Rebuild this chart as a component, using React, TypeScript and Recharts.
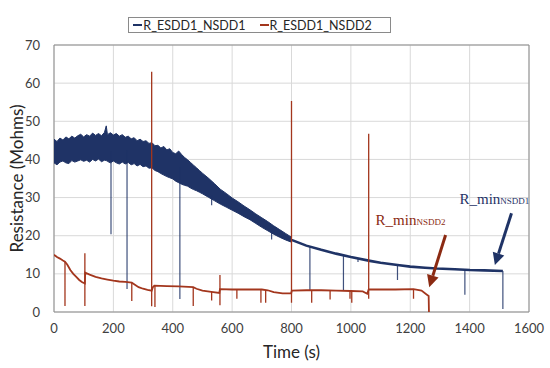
import {
  Area,
  CartesianGrid,
  ComposedChart,
  Line,
  ReferenceArea,
  ReferenceLine,
  XAxis,
  YAxis,
} from "recharts";

// axis ticks
const xTicks = [0, 200, 400, 600, 800, 1000, 1200, 1400, 1600];
const yTicks = [0, 10, 20, 30, 40, 50, 60, 70];

// NSDD1: noisy band during the first ~800 s (upper / lower envelope)
const bandTime = [
  0, 10, 20, 30, 40, 50, 60, 70, 80, 90, 100, 110, 120, 130, 140, 150, 160, 170,
  176, 180, 190, 200, 210, 220, 230, 240, 250, 260, 270, 280, 290, 300, 310, 320,
  330, 340, 350, 360, 370, 380, 390, 400, 410, 420, 430, 440, 450, 460, 470, 480,
  490, 500, 520, 540, 560, 580, 600, 620, 640, 660, 680, 700, 720, 740, 760, 780,
  800,
];
const bandHigh = [
  45.3, 44.7, 45.6, 45.1, 45.9, 45.4, 46.1, 45.6, 46.2, 46.6, 45.9, 46.5, 46.1,
  46.9, 46.3, 46.8, 46.2, 47.1, 48.8, 46.5, 47, 46.4, 46.8, 46.1, 46.5, 45.8,
  46.1, 45.4, 45.7, 44.9, 45.3, 44.7, 44.9, 44.2, 44.4, 43.6, 43.7, 43, 43.4,
  42.5, 42.8, 41.8, 41.5, 42.2, 41.3, 40.5, 39.9, 39.2, 38.5, 37.8, 37.1, 36.4,
  35.1, 33.7, 32.2, 31.1, 29.9, 28.9, 27.8, 26.8, 25.7, 24.7, 23.7, 22.6, 21.6,
  20.6, 19.6,
];
const bandLow = [
  39.1, 38.6, 39.3, 39.6, 39.1, 38.9, 39.7, 39.3, 39.6, 39.9, 39.5, 39.8, 39.3,
  40, 39.6, 40.1, 39.4, 39.8, 39.7, 39.5, 39.1, 39.6, 39.1, 38.8, 39.3, 38.8,
  39.2, 38.6, 38.9, 38.3, 38.7, 38.1, 38.3, 37.7, 37.8, 37.1, 36.8, 36.3, 35.9,
  35.5, 35.2, 34.9, 34.3, 33.9, 33.5, 33.2, 33, 32.5, 32.1, 31.8, 31.4, 31, 30.1,
  29.2, 28.3, 27.5, 26.7, 25.9, 25, 24.2, 23.2, 22.2, 21.3, 20.4, 19.6, 18.9,
  18.3,
];

// NSDD1 trace after the band
const blueTime = [760, 800, 850, 900, 950, 1000, 1064, 1100, 1157, 1200, 1250, 1289, 1350, 1401, 1450, 1512];
const blueValue = [20.3, 18.9, 17.4, 16.3, 15.3, 14.4, 13.4, 12.9, 12.3, 11.9, 11.6, 11.4, 11.2, 11, 10.9, 10.75];

// NSDD1 drop-outs (time, from, to)
const blueSpikeTime = [192, 246, 424, 531, 733, 862, 975, 1024, 1157, 1384, 1512];
const blueSpikeFrom = [42, 42.5, 38, 30.5, 21.3, 17.1, 14.8, 13.9, 12.3, 11.1, 10.75];
const blueSpikeTo = [20.4, 6, 3.4, 28, 19, 5.8, 5.8, 13.1, 8.4, 4.5, 0.8];

// NSDD2 trace
const redTime = [
  0, 10, 20, 30, 37, 45, 55, 65, 75, 85, 95, 104, 105, 120, 140, 160, 180, 200,
  220, 240, 262, 270, 285, 300, 315, 329, 333, 338, 380, 420, 469, 480, 500, 530,
  557, 559, 600, 650, 700, 720, 740, 770, 799, 801, 850, 900, 950, 1000, 1040,
  1055, 1060, 1100, 1150, 1211, 1238, 1255, 1262, 1263,
];
const redValue = [
  15, 14.4, 14, 13.5, 13.2, 12.4, 11, 10, 9.2, 8.4, 7.8, 7.5, 10.3, 9.8, 9.2,
  8.8, 8.5, 8.2, 8, 7.9, 7.7, 7.3, 6.5, 6.1, 5.8, 5.6, 6.5, 6.9, 6.8, 6.7, 6.5,
  6.1, 5.6, 5.3, 5, 6, 5.9, 5.9, 5.9, 5.7, 5.2, 4.9, 4.9, 5.6, 5.7, 5.7, 5.6,
  5.5, 5.4, 4.8, 5.9, 5.9, 5.9, 6, 5.6, 4.6, 4.2, 0,
];

// NSDD2 spikes (time, from, to)
const redSpikeTime = [37, 104, 262, 329, 340, 469, 531, 559, 616, 697, 713, 800, 868, 930, 997, 1003, 1060, 1211];
const redSpikeFrom = [13.2, 15.4, 7.7, 63, 6.9, 6.5, 5.3, 9.7, 5.9, 5.9, 5.8, 55.3, 5.7, 5.7, 5.5, 5.5, 46.7, 6];
const redSpikeTo = [1.6, 1.6, 2.9, 1.5, 1.3, 1.6, 3, 1.8, 3.5, 2.4, 2.4, 2.4, 2.4, 3.3, 3.5, 2.4, 3.5, 3.5];

const BLUE = "#1f3366";
const RED = "#a3361d";

const bandData = bandTime.map((t, i) => ({ t, range: [bandLow[i], bandHigh[i]] }));
const blueData = blueTime.map((t, i) => ({ t, v: blueValue[i] }));
const redData = redTime.map((t, i) => ({ t, v: redValue[i] }));
const spikes = (time: number[], from: number[], to: number[]) =>
  time.flatMap((t, i) => [
    { t, v: from[i] },
    { t, v: to[i] },
    { t, v: null },
  ]);
const blueSpikeData = spikes(blueSpikeTime, blueSpikeFrom, blueSpikeTo);
const redSpikeData = spikes(redSpikeTime, redSpikeFrom, redSpikeTo);

function Arrow(props: any, color: string, label: string, dx: number, dy: number) {
  const { x1, y1, x2, y2 } = props;
  const ang = Math.atan2(y2 - y1, x2 - x1);
  const len = 12;
  const w = 6;
  const bx = x2 - len * Math.cos(ang);
  const by = y2 - len * Math.sin(ang);
  const px = -Math.sin(ang) * w;
  const py = Math.cos(ang) * w;
  return (
    <g>
      <line x1={x1} y1={y1} x2={bx} y2={by} stroke={color} strokeWidth={3} />
      <polygon points={`${x2},${y2} ${bx + px},${by + py} ${bx - px},${by - py}`} fill={color} />
      <text
        x={x1 + dx}
        y={y1 + dy}
        fill={color}
        fontFamily="'Liberation Serif', 'DejaVu Serif', serif"
        fontSize={15}
      >
        R_min
        <tspan fontSize={9}>{label}</tspan>
      </text>
    </g>
  );
}

function LegendBox() {
  const item = (color: string, name: string) => (
    <span style={{ display: "inline-flex", alignItems: "center", marginRight: 14 }}>
      <span style={{ display: "inline-block", width: 9, height: 2, background: color, marginRight: 1 }} />
      {name}
    </span>
  );
  return (
    <div
      style={{
        position: "absolute",
        left: 128,
        top: 17,
        width: 261,
        height: 14,
        border: "1px solid #8a8a8a",
        display: "flex",
        alignItems: "center",
        justifyContent: "center",
        fontFamily: "Lato, 'Open Sans', sans-serif",
        fontSize: 12.5,
        color: "#262626",
        background: "#fff",
        zIndex: 2,
      }}
    >
      {item(BLUE, "R_ESDD1_NSDD1")}
      {item(RED, "R_ESDD1_NSDD2")}
    </div>
  );
}

export default function App() {
  return (
    <div style={{ position: "absolute", left: 0, top: 0, width: 550, height: 368, background: "#fff" }}>
      <LegendBox />
      <ComposedChart
        width={550}
        height={368}
        margin={{ top: 45, right: 21, left: 14, bottom: 26 }}
        style={{ fontFamily: "Lato, 'Open Sans', sans-serif" }}
      >
        <CartesianGrid stroke="#d9d9d9" strokeWidth={1} />
        <XAxis
          type="number"
          dataKey="t"
          domain={[0, 1600]}
          ticks={xTicks}
          allowDataOverflow
          axisLine={false}
          tickLine={false}
          tickSize={0}
          tickMargin={12}
          height={30}
          tick={{ fontSize: 13, fill: "#404040" }}
          label={{ value: "Time (s)", position: "insideBottom", offset: -16, fontSize: 17, fill: "#262626" }}
        />
        <YAxis
          type="number"
          domain={[0, 70]}
          ticks={yTicks}
          allowDataOverflow
          axisLine={false}
          tickLine={false}
          tickSize={0}
          tickMargin={14}
          width={40}
          tick={{ fontSize: 13, fill: "#404040" }}
          label={{
            value: "Resistance (Mohms)",
            angle: -90,
            position: "insideLeft",
            offset: 3,
            textAnchor: "middle",
            fontSize: 17,
            fill: "#262626",
          }}
        />
        <ReferenceArea x1={0} x2={1600} y1={0} y2={70} fill="none" stroke="#8c8c8c" strokeWidth={1} ifOverflow="visible" />
        <Area
          data={bandData}
          dataKey="range"
          type="linear"
          stroke={BLUE}
          strokeWidth={1}
          fill={BLUE}
          fillOpacity={1}
          isAnimationActive={false}
          dot={false}
          activeDot={false}
        />
        <Line
          data={blueSpikeData}
          dataKey="v"
          type="linear"
          stroke={BLUE}
          strokeWidth={1.2}
          strokeOpacity={0.85}
          dot={false}
          connectNulls={false}
          isAnimationActive={false}
        />
        <Line
          data={blueData}
          dataKey="v"
          type="linear"
          stroke={BLUE}
          strokeWidth={2.6}
          dot={false}
          isAnimationActive={false}
        />
        <Line
          data={redSpikeData}
          dataKey="v"
          type="linear"
          stroke={RED}
          strokeWidth={1.3}
          dot={false}
          connectNulls={false}
          isAnimationActive={false}
        />
        <Line
          data={redData}
          dataKey="v"
          type="linear"
          stroke={RED}
          strokeWidth={1.8}
          dot={false}
          isAnimationActive={false}
        />
        <ReferenceLine
          segment={[{ x: 1319, y: 20.2 }, { x: 1264, y: 6.5 }]}
          ifOverflow="visible"
          shape={(p: any) => Arrow(p, "#8b2a12", "NSDD2", -70, -10)}
        />
        <ReferenceLine
          segment={[{ x: 1541, y: 25.9 }, { x: 1485, y: 12.3 }]}
          ifOverflow="visible"
          shape={(p: any) => Arrow(p, BLUE, "NSDD1", -52, -9)}
        />
      </ComposedChart>
    </div>
  );
}
